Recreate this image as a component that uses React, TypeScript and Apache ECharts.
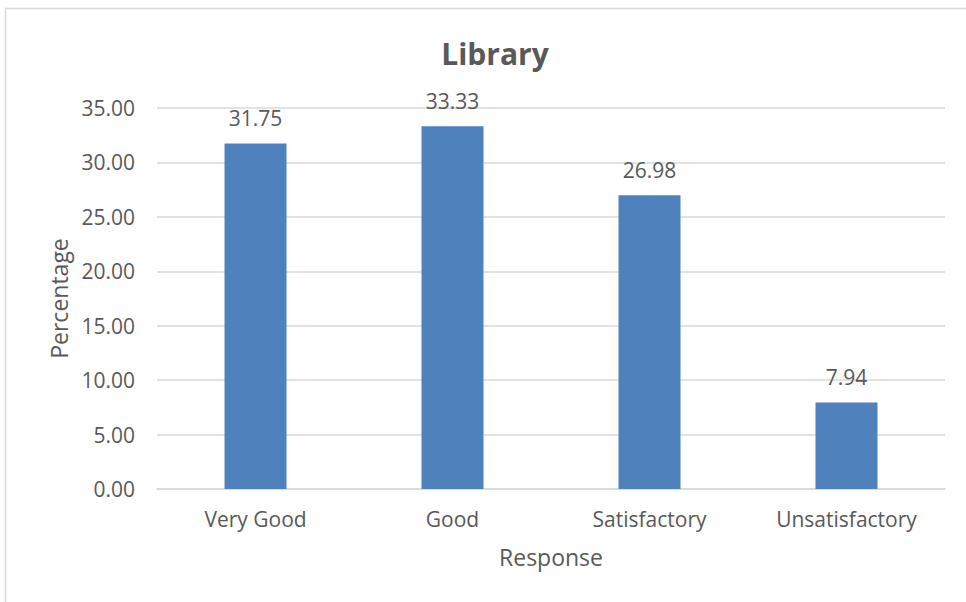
import React, { useEffect, useRef } from "react";
import * as echarts from "echarts";

const categories = ["Very Good", "Good", "Satisfactory", "Unsatisfactory"];
const values = [31.75, 33.33, 26.98, 7.94];
const titleText = "Library";
const xName = "Response";
const yName = "Percentage";

export default function App() {
  const ref = useRef<HTMLDivElement>(null);
  useEffect(() => {
    const chart = echarts.init(ref.current!, null, { renderer: "svg" });
    const font = "'Open Sans', 'Noto Sans', sans-serif";
    chart.setOption({
      animation: false,
      backgroundColor: "#ffffff",
      textStyle: { fontFamily: font },
      title: {
        text: titleText,
        left: 490,
        textAlign: "center",
        top: 33,
        textStyle: { fontFamily: font, fontSize: 30, fontWeight: "bold", color: "#595959" },
      },
      graphic: [
        {
          type: "rect",
          shape: { x: 5.5, y: 8.5, width: 1000, height: 1000 },
          style: { fill: "none", stroke: "#d9d9d9", lineWidth: 1.5 },
          silent: true,
        },
      ],
      grid: { left: 157, right: 21, top: 108, bottom: 113 },
      xAxis: {
        type: "category",
        data: categories,
        name: xName,
        nameLocation: "middle",
        nameGap: 56,
        nameTextStyle: { fontSize: 23, color: "#595959", fontFamily: font },
        axisLine: { lineStyle: { color: "#d9d9d9", width: 1.5 } },
        axisTick: { show: false },
        axisLabel: { fontSize: 21, color: "#595959", margin: 19, fontFamily: font },
      },
      yAxis: {
        type: "value",
        min: 0,
        max: 35,
        interval: 5,
        name: yName,
        nameLocation: "middle",
        nameGap: 86,
        nameTextStyle: { fontSize: 23, color: "#595959", fontFamily: font },
        axisLabel: {
          fontSize: 21,
          color: "#595959",
          margin: 22,
          fontFamily: font,
          formatter: (v: number) => v.toFixed(2),
        },
        axisLine: { show: false },
        axisTick: { show: false },
        splitLine: { lineStyle: { color: "#d9d9d9", width: 1.5 } },
      },
      series: [
        {
          type: "bar",
          data: values,
          barWidth: 62,
          itemStyle: { color: "#4f81bd" },
          label: {
            show: true,
            position: "top",
            distance: 15,
            fontSize: 21,
            color: "#595959",
            fontFamily: font,
            formatter: (p: any) => Number(p.value).toFixed(2),
          },
        },
      ],
    });
    return () => chart.dispose();
  }, []);
  return (
    <div
      ref={ref}
      style={{ position: "absolute", left: 0, top: 0, width: 966, height: 602 }}
    />
  );
}
